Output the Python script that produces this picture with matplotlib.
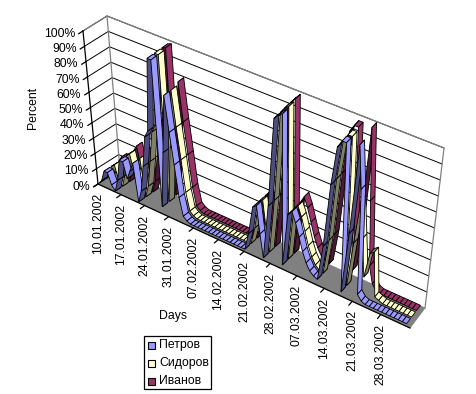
import matplotlib
matplotlib.use("Agg")
import matplotlib.pyplot as plt
from matplotlib.patches import Polygon, Rectangle

plt.rcParams['font.family'] = ['Liberation Sans', 'DejaVu Sans']

series_names = ["Петров", "Сидоров", "Иванов"]
tick_labels = ["10.01.2002","17.01.2002","24.01.2002","31.01.2002","07.02.2002","14.02.2002",
               "21.02.2002","28.02.2002","07.03.2002","14.03.2002","21.03.2002","28.03.2002"]
y_labels = ["0%","10%","20%","30%","40%","50%","60%","70%","80%","90%","100%"]

petrov = [0,3,10,10,3, 0,8,22,22,12,18,24, 0,8,25,45,50,98,98,4, 40,78,55,35,15,4,2,
          1,1,1,1,1,1,1,1,1,1,1,1,1,1,1,1,
          12,30,32,15,1,35,92,95,97,2,35,38,32,24,16,10,6,4,3,25,65,90,95,95,2,40,97,70,5,2,
          1,1,1,1,1,1,1,1,1,1,1]
sidorov = [0,3,10,12,3, 0,8,22,24,12,18,24, 0,8,25,45,50,98,98,4, 40,78,55,35,15,4,2,
           1,1,1,1,1,1,1,1,1,1,1,1,1,1,1,1,
           12,30,32,15,1,35,92,96,98,2,35,38,32,24,16,10,6,4,3,25,65,90,95,95,2,30,58,35,12,28,
           30,3,2,1,1,1,1,1,1,1,1]
ivanov = [0,3,10,14,3, 0,8,22,26,12,20,26, 0,8,25,45,50,98,99,5, 42,80,55,35,15,4,2,
          1,1,1,1,1,1,1,1,1,1,1,1,1,1,1,1,
          12,30,32,15,1,35,92,96,99,2,35,40,34,26,18,12,8,6,5,25,65,92,97,97,8,40,100,55,15,5,
          2,1,1,1,1,1,1,1,1,1,1]

base_cols = ["#9999FF", "#FFFFCC", "#993366"]
dark_cols = ["#4D4D80", "#808066", "#4D1A33"]

# corners in pixels: (front/back, left/right, bottom/top)
FLB=(98,184); FRB=(410,328); BLB=(120,170); BRB=(425,308)
FLT=(83,31);  FRT=(428,168); BLT=(107,16);  BRT=(444,148)
W=1.137
N=84

def proj(d, v, h):
    u=d/N
    u=u/(u+W*(1-u))
    out=[]
    for i in (0,1):
        b=(FLB[i]*(1-u)+FRB[i]*u)*(1-v)+(BLB[i]*(1-u)+BRB[i]*u)*v
        t=(FLT[i]*(1-u)+FRT[i]*u)*(1-v)+(BLT[i]*(1-u)+BRT[i]*u)*v
        out.append(b*(1-h)+t*h)
    return out

fig=plt.figure(figsize=(4.76,3.94),dpi=100)
ax=fig.add_axes([0,0,1,1])
ax.set_xlim(0,476); ax.set_ylim(394,0); ax.axis('off')

GR="#808080"
# walls
ax.add_patch(Polygon([proj(0,0,0),proj(0,1,0),proj(0,1,1),proj(0,0,1)],fc='white',ec='none'))
ax.add_patch(Polygon([proj(0,1,0),proj(N,1,0),proj(N,1,1),proj(0,1,1)],fc='white',ec='none'))
# gridlines
for k in range(1,11):
    h=k/10
    ax.plot(*zip(proj(0,0,h),proj(0,1,h),proj(N,1,h)),color='k',lw=0.7,zorder=1)
# wall outlines
ax.plot(*zip(proj(0,0,1),proj(0,1,1),proj(N,1,1),proj(N,1,0)),color=GR,lw=0.9,zorder=1.1)
ax.plot(*zip(proj(0,1,1),proj(0,1,0)),color=GR,lw=0.9,zorder=1.1)
# floor
ax.add_patch(Polygon([proj(0,0,0),proj(N,0,0),proj(N,1,0),proj(0,1,0)],fc=GR,ec=GR,lw=0.6,zorder=1.2))

# ribbons
bands=[(0.04,0.30),(0.37,0.63),(0.70,0.96)]
z=2
for vals,(v0,v1),bc,dc in reversed(list(zip([petrov,sidorov,ivanov],bands,base_cols,dark_cols))):
    for i in range(len(vals)-1):
        a,b=vals[i]/100,vals[i+1]/100
        col=dc if b>a+0.015 else bc
        ax.add_patch(Polygon([proj(i,v0,a),proj(i+1,v0,b),proj(i+1,v1,b),proj(i,v1,a)],
                             fc=col,ec='k',lw=0.6,zorder=z))
        z+=0.001

# axes and ticks
ax.plot(*zip(proj(0,0,0),proj(0,0,1)),color='k',lw=0.9,zorder=5)
ax.plot(*zip(proj(0,0,0),proj(N,0,0)),color='k',lw=0.9,zorder=5)
for k,lab in enumerate(y_labels):
    h=k/10
    p=proj(0,0,h); q=proj(0,-0.18,h)
    ax.plot([p[0],q[0]],[p[1],q[1]],color='k',lw=0.9,zorder=5)
    ax.text(q[0]-3.5,q[1],lab,ha='right',va='center',fontsize=8.8,color='k')
for k,lab in enumerate(tick_labels):
    d=k*7
    p=proj(d,0,0); q=proj(d,-0.2,0)
    ax.plot([p[0],q[0]],[p[1],q[1]],color='k',lw=0.9,zorder=5)
    ax.text(p[0],p[1]+9,lab,rotation=90,ha='center',va='top',fontsize=8.8,color='k')

ax.text(33,108,"Percent",rotation=90,ha='center',va='center',fontsize=8.8)
ax.text(173,316,"Days",ha='center',va='center',fontsize=8.8)

# legend
ax.add_patch(Rectangle((143.5,335.5),67,53,fc='white',ec='k',lw=0.9,zorder=6))
for y,name,c in zip([345,363,381],series_names,base_cols):
    ax.add_patch(Rectangle((148,y-3.5),7,7,fc=c,ec='k',lw=0.8,zorder=7))
    ax.text(159,y,name,ha='left',va='center',fontsize=8.8,zorder=7)

fig.savefig("out.png",dpi=100)
